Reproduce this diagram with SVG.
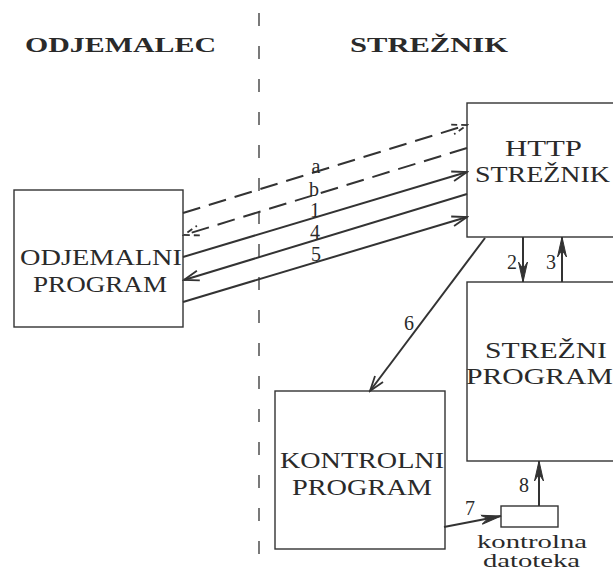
<svg xmlns="http://www.w3.org/2000/svg" width="613" height="573" viewBox="0 0 613 573">
<defs>
<style>
text{font-family:"Liberation Serif","DejaVu Serif",serif;fill:#2a2a2a}
.hdr{font-size:22px;font-weight:bold}
.big{font-size:24px}
.lbl{font-size:20px}
.sm{font-size:19px}
.box{fill:none;stroke:#333;stroke-width:1.4}
.ln{fill:none;stroke:#333;stroke-width:2}
.dash{fill:none;stroke:#333;stroke-width:2;stroke-dasharray:18 9}
.sep{fill:none;stroke:#333;stroke-width:1.3;stroke-dasharray:13 20}
</style>
<marker id="open" markerUnits="userSpaceOnUse" viewBox="-16 -7 18 14" refX="0" refY="0" markerWidth="18" markerHeight="14" orient="auto">
<path d="M-15,-5 L0,0 L-15,5" fill="none" stroke="#333" stroke-width="1.8"/>
</marker>
<marker id="opend" markerUnits="userSpaceOnUse" viewBox="-16 -7 18 14" refX="0" refY="0" markerWidth="18" markerHeight="14" orient="auto">
<path d="M-15,-5 L0,0 L-15,5" fill="none" stroke="#333" stroke-width="1.8" stroke-dasharray="6 4"/>
</marker>
<marker id="fill" markerUnits="userSpaceOnUse" viewBox="-20 -6 22 12" refX="0" refY="0" markerWidth="22" markerHeight="12" orient="auto">
<path d="M0,0 L-20,-4.5 L-13,0 L-20,4.5 Z" fill="#333" stroke="#333" stroke-width="1"/>
</marker>
</defs>

<g id="headers">
<text class="hdr" x="25" y="52" textLength="191" lengthAdjust="spacingAndGlyphs">ODJEMALEC</text>
<text class="hdr" x="350" y="52" textLength="158" lengthAdjust="spacingAndGlyphs">STREŽNIK</text>
</g>

<g id="separator">
<line class="sep" x1="259" y1="13" x2="259" y2="573"/>
</g>

<g id="odjemalni-program">
<rect class="box" x="14" y="190" width="169" height="137"/>
<text class="big" x="20" y="265" textLength="162" lengthAdjust="spacingAndGlyphs">ODJEMALNI</text>
<text class="big" x="33" y="292" textLength="134" lengthAdjust="spacingAndGlyphs">PROGRAM</text>
</g>

<g id="http-streznik">
<rect class="box" x="467" y="103" width="160" height="134"/>
<text class="big" x="505" y="156" textLength="77" lengthAdjust="spacingAndGlyphs">HTTP</text>
<text class="big" x="475" y="182" textLength="135" lengthAdjust="spacingAndGlyphs">STREŽNIK</text>
</g>

<g id="strezni-program">
<rect class="box" x="467" y="282" width="160" height="179"/>
<text class="big" x="485" y="358" textLength="122" lengthAdjust="spacingAndGlyphs">STREŽNI</text>
<text class="big" x="466" y="384" textLength="147" lengthAdjust="spacingAndGlyphs">PROGRAM</text>
</g>

<g id="kontrolni-program">
<rect class="box" x="275" y="391" width="170" height="158"/>
<text class="big" x="280" y="468" textLength="164" lengthAdjust="spacingAndGlyphs">KONTROLNI</text>
<text class="big" x="292" y="495" textLength="140" lengthAdjust="spacingAndGlyphs">PROGRAM</text>
</g>

<g id="kontrolna-datoteka">
<rect class="box" x="501" y="506" width="57" height="21"/>
<text class="sm" x="477" y="548" textLength="110" lengthAdjust="spacingAndGlyphs">kontrolna</text>
<text class="sm" x="483" y="567" textLength="97" lengthAdjust="spacingAndGlyphs">datoteka</text>
</g>

<g id="connectors">
<line class="dash" x1="183" y1="213" x2="467" y2="125" marker-end="url(#opend)"/>
<line class="dash" x1="467" y1="148" x2="184" y2="235" marker-end="url(#opend)"/>
<line class="ln" x1="183" y1="257" x2="467" y2="172" marker-end="url(#open)"/>
<line class="ln" x1="467" y1="194" x2="184" y2="280" marker-end="url(#open)"/>
<line class="ln" x1="183" y1="302" x2="467" y2="217" marker-end="url(#open)"/>
<line class="ln" x1="523" y1="237" x2="523" y2="282" marker-end="url(#fill)"/>
<line class="ln" x1="562" y1="282" x2="562" y2="237" marker-end="url(#fill)"/>
<line class="ln" x1="485" y1="238" x2="370" y2="391" marker-end="url(#open)"/>
<line class="ln" x1="444" y1="527" x2="501" y2="516" marker-end="url(#fill)"/>
<line class="ln" x1="539" y1="506" x2="539" y2="461" marker-end="url(#fill)"/>
</g>

<g id="labels">
<text class="lbl" x="316" y="173" text-anchor="middle">a</text>
<text class="lbl" x="314" y="196" text-anchor="middle">b</text>
<text class="lbl" x="315" y="217" text-anchor="middle">1</text>
<text class="lbl" x="315" y="239" text-anchor="middle">4</text>
<text class="lbl" x="316" y="261" text-anchor="middle">5</text>
<text class="lbl" x="512" y="269" text-anchor="middle">2</text>
<text class="lbl" x="551" y="269" text-anchor="middle">3</text>
<text class="lbl" x="409" y="330" text-anchor="middle">6</text>
<text class="lbl" x="470" y="515" text-anchor="middle">7</text>
<text class="lbl" x="524" y="492" text-anchor="middle">8</text>
</g>
</svg>
